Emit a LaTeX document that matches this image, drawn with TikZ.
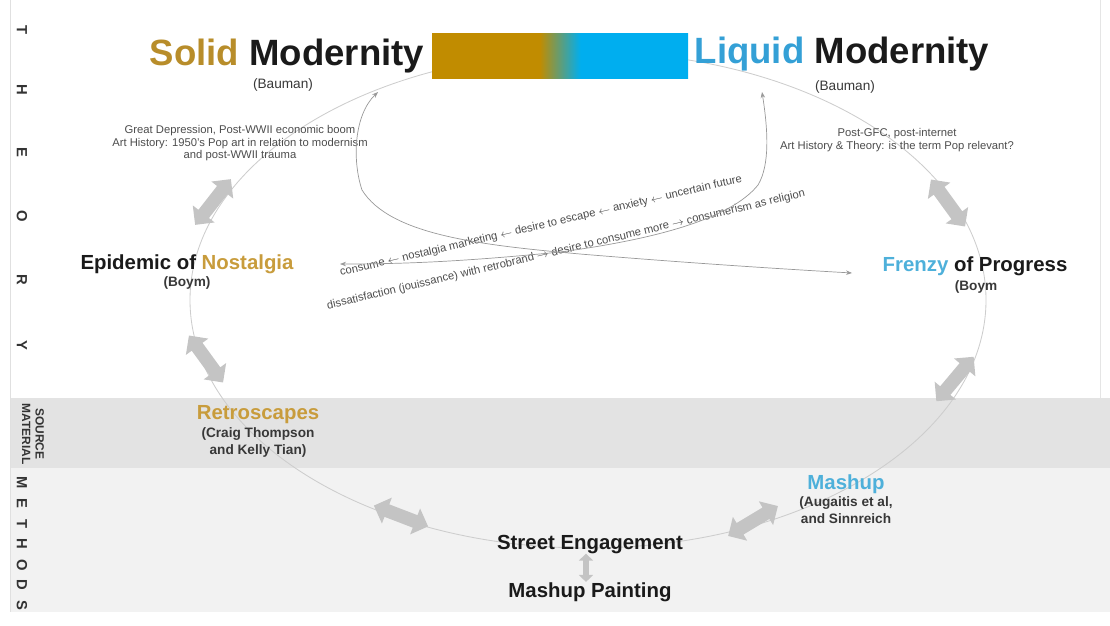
\documentclass[tikz,border=0pt]{standalone}
\usepackage{fontspec}
\setmainfont{Liberation Sans}
\usepackage{xcolor}
\usetikzlibrary{arrows.meta, shapes.arrows}
\definecolor{solidgold}{RGB}{184,141,42}
\definecolor{nostgold}{RGB}{200,156,60}
\definecolor{bargold}{RGB}{193,140,0}
\definecolor{barblue}{RGB}{0,174,239}
\definecolor{liquidblue}{RGB}{52,160,214}
\definecolor{frenzyblue}{RGB}{78,176,218}
\definecolor{bandgray}{RGB}{227,227,227}
\definecolor{methodgray}{RGB}{242,242,242}
\definecolor{loopgray}{RGB}{205,205,205}
\definecolor{blockgray}{RGB}{196,196,196}
\definecolor{inkblack}{RGB}{26,26,26}
\pgfdeclarehorizontalshading{barshade}{100bp}{color(0bp)=(bargold); color(46bp)=(bargold);
color(54bp)=(barblue); color(100bp)=(barblue)}
\tikzstyle{titletext} = [font=\fontsize{26}{30}\selectfont\bfseries, text=inkblack,
inner sep=0pt, anchor=base]
\tikzstyle{cycletext} = [font=\fontsize{14.5}{17}\selectfont\bfseries, text=inkblack,
inner sep=0pt, anchor=base]
\tikzstyle{citetext} = [font=\fontsize{9.7}{12}\selectfont\bfseries, text=black!78,
inner sep=0pt, align=center]
\tikzstyle{notetext} = [font=\fontsize{8}{9}\selectfont, text=black!70,
inner sep=0pt, align=center]
\tikzstyle{sidetext} = [font=\fontsize{10.5}{11}\selectfont\bfseries, text=black!80,
rotate=-90, inner sep=0pt, align=center]
\tikzstyle{blockarrow} = [double arrow, fill=blockgray, inner xsep=0pt, inner ysep=0.16cm,
minimum height=1.45cm, double arrow head extend=0.18cm]
\tikzstyle{fatarrow} = [{Triangle[length=5pt,width=10pt]}-{Triangle[length=5pt,width=10pt]},
draw=blockgray, line width=4pt]
\tikzstyle{thinarrow} = [{Stealth[length=1.5mm]}-{Stealth[length=1.5mm]},
draw=black!40, line width=0.5pt]

\begin{document}
\begin{tikzpicture}[x=0.025cm, y=-0.025cm]
    \useasboundingbox (0,0) rectangle (1110,625);
    % bands and frame
    \fill[bandgray] (10,398) rectangle (1110,468);
    \fill[methodgray] (10,468) rectangle (1110,612);
    \draw[black!12] (10,0) -- (10,612);
    \draw[black!10] (1100,0) -- (1100,398);

    % side labels
    \foreach \ch/\yy in {T/30,H/90,E/152,O/216,R/280,Y/345}
        \node (theory\ch) [sidetext] at (22,\yy) {\ch};
    \node (source) [sidetext, font=\fontsize{8.5}{9.5}\selectfont\bfseries] at (33,434)
    {SOURCE\\MATERIAL};
    \foreach \ch/\yy in {M/483,E/503,T/524,H/544,O/565,D/585,S/605}
        \node (method\ch) [sidetext] at (22,\yy) {\ch};

    % the loop
    \draw[loopgray, line width=0.6pt] (588,300) ellipse [x radius=398, y radius=248];

    % colour bar
    \shade[shading=barshade] (432,33) rectangle (688,78);

    % block arrows on the loop
    \node (loopa) [blockarrow, rotate=52] at (213,202) {};
    \node (loopb) [blockarrow, rotate=-54] at (206,359) {};
    \node (loopc) [blockarrow, rotate=-21] at (401,516) {};
    \node (loopd) [blockarrow, rotate=31] at (753,521) {};
    \node (loope) [blockarrow, rotate=50] at (955,379) {};
    \node (loopf) [blockarrow, rotate=-54] at (948,203) {};

    % titles
    \node (solid) [titletext] at (287,65) {\textcolor{solidgold}{Solid} Modernity};
    \node (solidcite) [citetext, font=\fontsize{9.7}{12}\selectfont] at (283,85) {(Bauman)};
    \node (liquid) [titletext] at (842,63) {\textcolor{liquidblue}{Liquid} Modernity};
    \node (liquidcite) [citetext, font=\fontsize{9.7}{12}\selectfont] at (845,87) {(Bauman)};

    \node (solidnote) [notetext, anchor=north] at (240,125)
    {Great Depression, Post-WWII economic boom\\Art History: 1950's Pop art in relation to modernism\\and post-WWII trauma};
    \node (liquidnote) [notetext, anchor=north] at (897,128)
    {Post-GFC, post-internet\\Art History \& Theory: is the term Pop relevant?};

    % cycle stages
    \node (nostalgia) [cycletext] at (187,269) {Epidemic of \textcolor{nostgold}{Nostalgia}};
    \node (nostcite) [citetext] at (187,283) {(Boym)};
    \node (frenzy) [cycletext] at (975,271) {\textcolor{frenzyblue}{Frenzy} of Progress};
    \node (frenzycite) [citetext] at (976,287) {(Boym};
    \node (retro) [cycletext, text=nostgold] at (258,419) {Retroscapes};
    \node (retrocite) [citetext, anchor=north] at (258,427) {(Craig Thompson\\and Kelly Tian)};
    \node (mashup) [cycletext, text=frenzyblue] at (846,489) {Mashup};
    \node (mashcite) [citetext, anchor=north] at (846,496) {(Augaitis et al,\\and Sinnreich};
    \node (street) [cycletext] at (590,549) {Street Engagement};
    \node (painting) [cycletext] at (590,597) {Mashup Painting};
    \draw[fatarrow] ([xshift=-0.1cm]street.south) -- ([xshift=-0.1cm]painting.north);

    % the two chains
    \node (escape) [notetext, rotate=13.2] at (541,226)
    {consume $\leftarrow$ nostalgia marketing $\leftarrow$ desire to escape $\leftarrow$ anxiety $\leftarrow$ uncertain future};
    \node (consume) [notetext, rotate=13.3] at (566,250)
    {dissatisfaction (jouissance) with retrobrand $\rightarrow$ desire to consume more $\rightarrow$ consumerism as religion};

    \coordinate (solidend) at (378,92);
    \coordinate (frenzyend) at (852,273);
    \coordinate (liquidend) at (762,92);
    \coordinate (nostend) at (340,264);
    \draw[thinarrow] (solidend) .. controls (354,115) and (352,160) .. (362,190)
        .. controls (390,235) and (480,245) .. (580,254)
        .. controls (700,264) and (800,270) .. (frenzyend);
    \draw[thinarrow] (liquidend) .. controls (768,130) and (770,165) .. (758,185)
        .. controls (730,220) and (650,240) .. (560,252)
        .. controls (460,262) and (400,264) .. (nostend);
\end{tikzpicture}
\end{document}
